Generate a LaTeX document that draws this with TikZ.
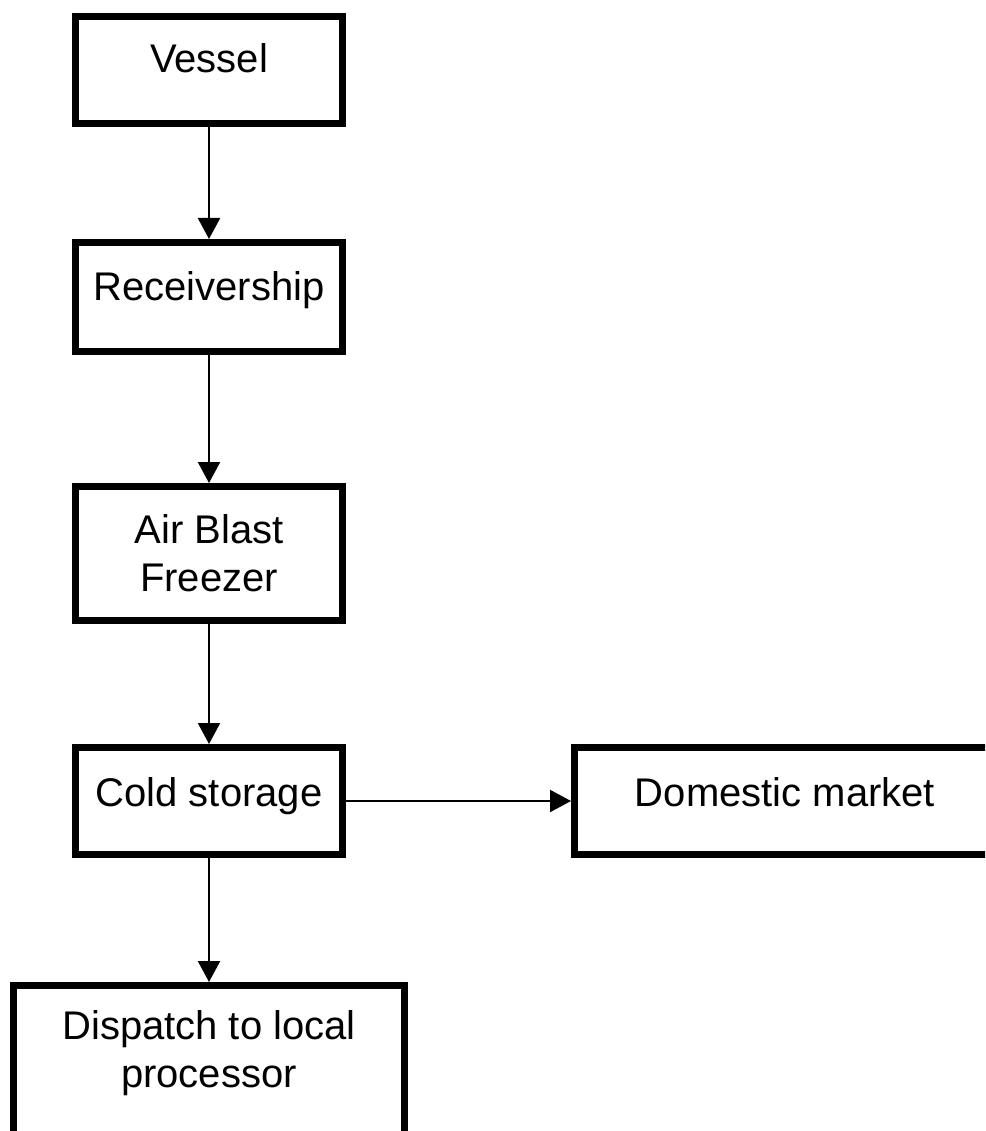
\documentclass[tikz,border=0pt]{standalone}
\usepackage{fontspec}
\setmainfont{Liberation Sans}
\usepackage{tikz}
\usetikzlibrary{arrows.meta}

\begin{document}
\begin{tikzpicture}[x=1pt,y=-1pt,
	blk/.style={draw,line width=7pt,inner sep=0pt,anchor=north,align=center,
		font=\fontsize{40}{48}\selectfont,minimum width=267pt},
	arr/.style={line width=2.2pt,-{Triangle[width=22pt,length=21pt]}}]
			\useasboundingbox (0,0) rectangle (985,1131);
			\clip (0,0) rectangle (985,1131);
			% Draw the boxes
			\node[blk,text height=56.5pt,text depth=50.5pt] (ves) at (209,13) {Vessel};
			\node[blk,text height=58.5pt,text depth=50.5pt] (rec) at (209,239) {Receivership};
			\node[blk,text height=104.5pt,text depth=29.5pt] (abf) at (209,483) {Air Blast\\Freezer};
			\node[blk,text height=58.5pt,text depth=48.5pt] (cold) at (209,744) {Cold storage};
			\node[blk,text height=58.5pt,text depth=48.5pt,minimum width=421pt] (dom) at (785,744) {Domestic market};
			\node[blk,text height=101.5pt,text depth=80pt,minimum width=391pt] (disp) at (209,982) {Dispatch to local\\processor};
			% Draw the arrows
			\foreach \a/\b in {ves/rec,rec/abf,abf/cold,cold/disp,cold/dom}
			\draw[arr] (\a) -- (\b);
		\end{tikzpicture}
\end{document}
